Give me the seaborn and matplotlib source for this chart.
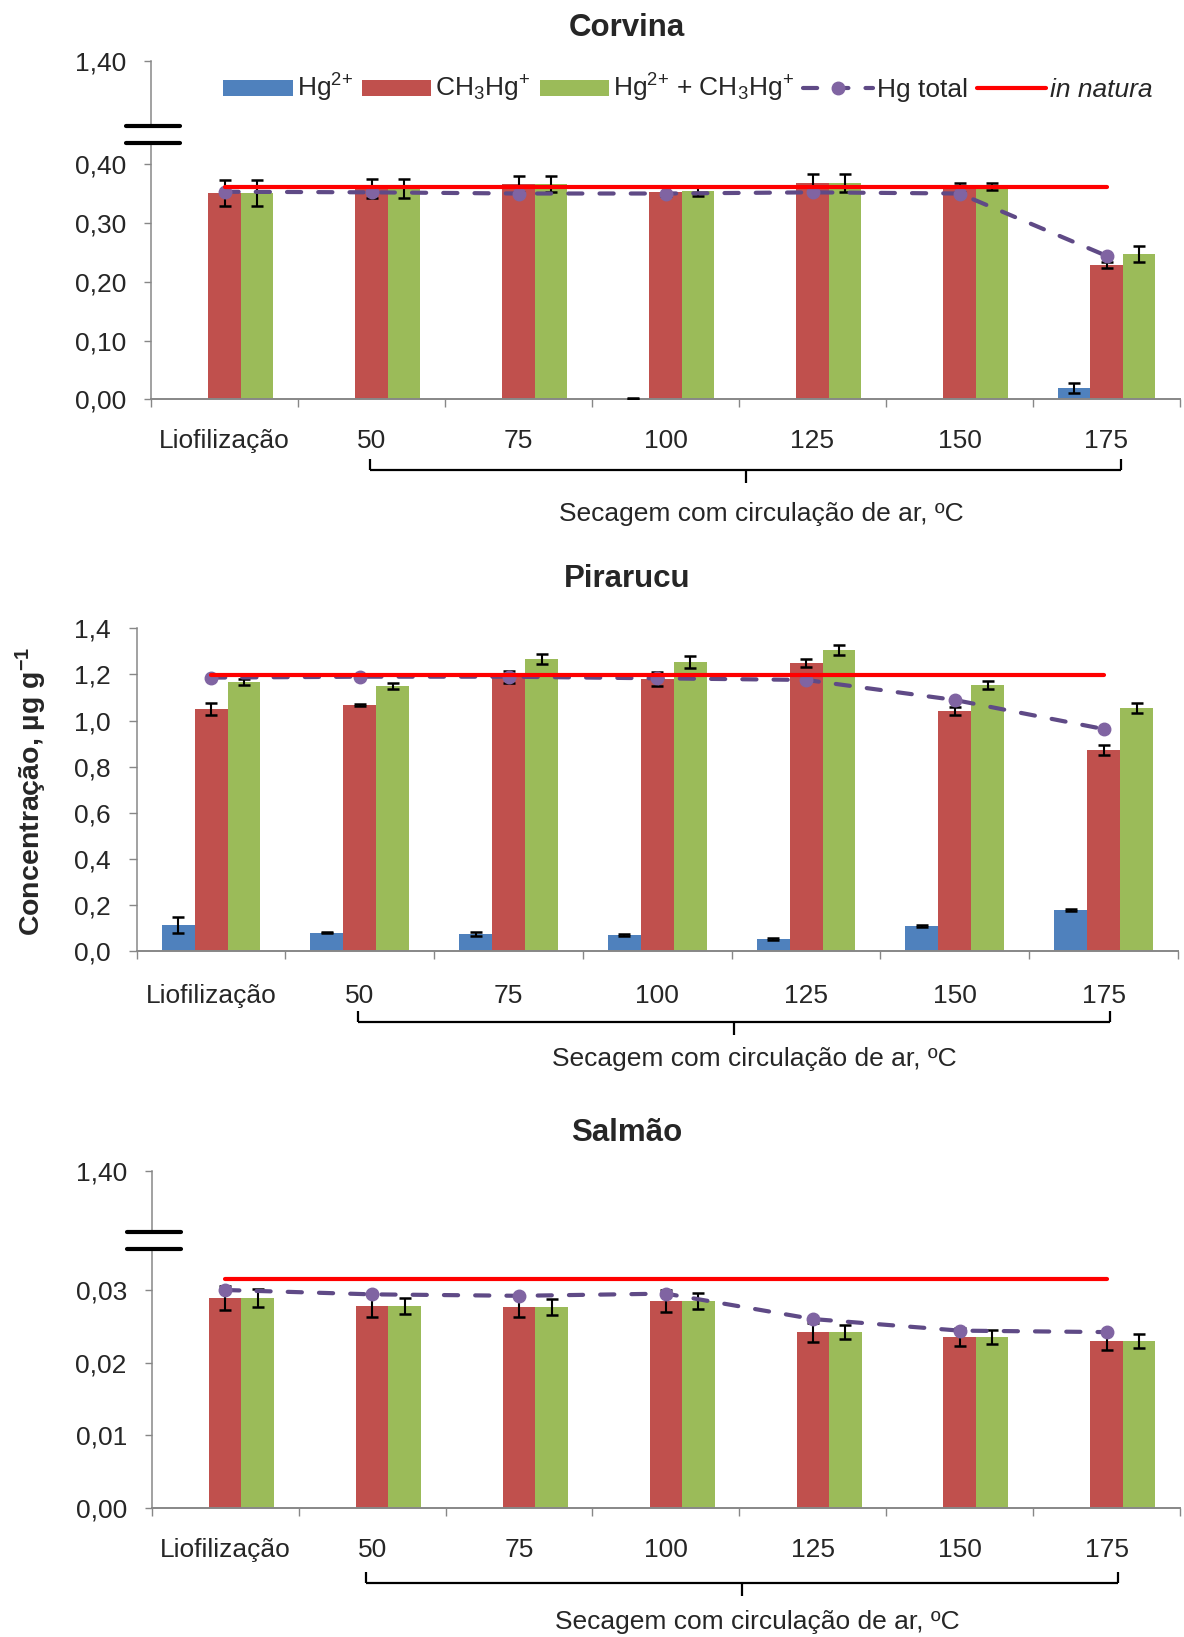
import numpy as np
import pandas as pd
import matplotlib
matplotlib.use("Agg")
import matplotlib.pyplot as plt
import matplotlib.transforms as mtransforms
from matplotlib.lines import Line2D
from matplotlib.patches import Patch
from matplotlib.ticker import FuncFormatter
import seaborn as sns

# ---------------- dados ----------------
categorias = ["Liofilização", "50", "75", "100", "125", "150", "175"]
especies = ["Hg$^{2{+}}$", "CH$_3$Hg$^{+}$", "Hg$^{2{+}}$ + CH$_3$Hg$^{+}$"]

# Corvina
corvina_hg2 = [0.0, 0.0, 0.0, 0.001, 0.0, 0.0, 0.019]
corvina_hg2_err = [0.0, 0.0, 0.0, 0.001, 0.0, 0.0, 0.008]
corvina_mehg = [0.351, 0.358, 0.366, 0.353, 0.368, 0.360, 0.228]
corvina_mehg_err = [0.022, 0.016, 0.014, 0.008, 0.015, 0.008, 0.005]
corvina_soma = [0.351, 0.358, 0.366, 0.354, 0.368, 0.362, 0.247]
corvina_soma_err = [0.022, 0.016, 0.014, 0.009, 0.015, 0.006, 0.013]
corvina_total = [0.353, 0.352, 0.350, 0.350, 0.352, 0.350, 0.244]
corvina_natura = 0.361

# Pirarucu
pirarucu_hg2 = [0.113, 0.080, 0.074, 0.069, 0.052, 0.109, 0.178]
pirarucu_hg2_err = [0.036, 0.004, 0.008, 0.004, 0.004, 0.003, 0.003]
pirarucu_mehg = [1.050, 1.067, 1.190, 1.180, 1.249, 1.041, 0.872]
pirarucu_mehg_err = [0.028, 0.004, 0.026, 0.029, 0.017, 0.018, 0.022]
pirarucu_soma = [1.167, 1.150, 1.267, 1.254, 1.306, 1.154, 1.054]
pirarucu_soma_err = [0.011, 0.013, 0.020, 0.027, 0.020, 0.019, 0.023]
pirarucu_total = [1.186, 1.190, 1.190, 1.183, 1.176, 1.089, 0.963]
pirarucu_natura = 1.197

# Salmão
salmao_hg2 = [0.0, 0.0, 0.0, 0.0, 0.0, 0.0, 0.0]
salmao_hg2_err = [0.0, 0.0, 0.0, 0.0, 0.0, 0.0, 0.0]
salmao_mehg = [0.0289, 0.0278, 0.0277, 0.0285, 0.0242, 0.0235, 0.0230]
salmao_mehg_err = [0.0016, 0.0015, 0.0014, 0.0015, 0.0013, 0.0012, 0.0012]
salmao_soma = [0.0289, 0.0278, 0.0277, 0.0285, 0.0242, 0.0235, 0.0230]
salmao_soma_err = [0.0013, 0.0011, 0.0011, 0.0011, 0.0010, 0.0010, 0.0010]
salmao_total = [0.0300, 0.0294, 0.0292, 0.0295, 0.0260, 0.0244, 0.0242]
salmao_natura = 0.0315

corvina_yticks = [0.0, 0.1, 0.2, 0.3, 0.4]
pirarucu_yticks = [0.0, 0.2, 0.4, 0.6, 0.8, 1.0, 1.2, 1.4]
salmao_yticks = [0.0, 0.01, 0.02, 0.03]

# ---------------- estilo ----------------
cores_barras = ["#4F81BD", "#C0504D", "#9BBB59"]
roxo_linha = "#5F4A86"
roxo_marcador = "#8064A2"
vermelho = "#FF0000"
cinza = "#878787"

sns.set_style("white")
plt.rcParams["font.family"] = ["Liberation Sans", "DejaVu Sans"]
plt.rcParams["mathtext.fontset"] = "custom"
plt.rcParams["mathtext.rm"] = "Liberation Sans"
plt.rcParams["mathtext.it"] = "Liberation Sans:italic"
plt.rcParams["mathtext.bf"] = "Liberation Sans:bold"

FS = 19
W, H = 1184, 1637
fig = plt.figure(figsize=(W / 100, H / 100), dpi=100)


def caixa(left, right, top, bottom):
    """Pixel box -> figure fraction [x0, y0, w, h]."""
    return [left / W, 1 - bottom / H, (right - left) / W, (bottom - top) / H]


estilo_total = dict(color=roxo_linha, lw=3, linestyle=(0, (3.4, 4.1)),
                    dash_capstyle="round", marker="o", ms=9,
                    mfc=roxo_marcador, mec=roxo_marcador)


def painel(ax, hg2, hg2_err, mehg, mehg_err, soma, soma_err, total, natura,
           ytop, yticks, decimais, pad_x):
    df = pd.DataFrame({
        "categoria": categorias * 3,
        "especie": np.repeat(especies, len(categorias)),
        "valor": list(hg2) + list(mehg) + list(soma),
    })
    sns.barplot(data=df, x="categoria", y="valor", hue="especie",
                order=categorias, hue_order=especies, palette=cores_barras,
                width=0.664, errorbar=None, saturation=1, linewidth=0,
                legend=False, ax=ax, zorder=2)
    for cont, vals, errs in zip(ax.containers, [hg2, mehg, soma],
                                [hg2_err, mehg_err, soma_err]):
        xs, ys, es = [], [], []
        for bar, v, e in zip(cont, vals, errs):
            if e > 0:
                xs.append(bar.get_x() + bar.get_width() / 2)
                ys.append(v)
                es.append(e)
        if xs:
            ax.errorbar(xs, ys, yerr=es, fmt="none", ecolor="black",
                        elinewidth=1.5, capsize=4.5, capthick=1.8, zorder=3)
    x = np.arange(len(categorias))
    ax.plot(x, total, zorder=4, **estilo_total)
    ax.plot([x[0], x[-1]], [natura, natura], color=vermelho, lw=3,
            solid_capstyle="round", zorder=5)

    ax.set_xlim(-0.5, len(categorias) - 0.5)
    ax.set_ylim(0, ytop)
    ax.set_xlabel("")
    ax.set_ylabel("")
    ax.set_xticks(x)
    ax.set_xticklabels(categorias)
    ax.set_xticks(np.arange(-0.5, len(categorias)), minor=True)
    ax.tick_params(axis="x", which="major", length=0, pad=pad_x, labelsize=FS,
                   bottom=True)
    ax.tick_params(axis="x", which="minor", length=5.5, width=1, color=cinza,
                   direction="out", bottom=True)
    ax.set_yticks(yticks)
    ax.yaxis.set_major_formatter(
        FuncFormatter(lambda v, p: f"{v:.{decimais}f}".replace(".", ",")))
    ax.tick_params(axis="y", length=5, width=1, color=cinza, pad=13,
                   labelsize=FS, direction="out", left=True)
    for s in ["top", "right"]:
        ax.spines[s].set_visible(False)
    ax.spines["left"].set_color(cinza)
    ax.spines["left"].set_linewidth(1.1)
    ax.spines["bottom"].set_color(cinza)
    ax.spines["bottom"].set_linewidth(1.4)
    ax.patch.set_alpha(0)


def eixo_topo(ax):
    ax.set_ylim(1.30, 1.40)
    ax.set_yticks([1.40])
    ax.set_yticklabels(["1,40"])
    ax.set_xticks([])
    ax.tick_params(axis="y", length=5, width=1, color=cinza, pad=13,
                   labelsize=FS, direction="out", left=True)
    for s in ["top", "right", "bottom"]:
        ax.spines[s].set_visible(False)
    ax.spines["left"].set_color(cinza)
    ax.spines["left"].set_linewidth(1.1)
    ax.patch.set_alpha(0)


def quebra(ax_baixo, ax_cima):
    pb = ax_baixo.get_position()
    pc = ax_cima.get_position()
    for yy in (pb.y1, pc.y0):
        fig.add_artist(Line2D([pb.x0 - 25 / W, pb.x0 + 29 / W], [yy, yy],
                              color="black", lw=3, transform=fig.transFigure))


def chave(ax, x0, x1, prof, prof_texto, x_texto):
    """Bracket grouping the air-drying temperatures, below the x axis."""
    alt = ax.get_position().height * H
    tr = mtransforms.blended_transform_factory(ax.transData, ax.transAxes)
    meio = (x0 + x1) / 2
    y = -prof / alt
    segs = [([x0, x1], [y, y]),
            ([x0, x0], [y, y + 11 / alt]),
            ([x1, x1], [y, y + 11 / alt]),
            ([meio, meio], [y, y - 13 / alt])]
    for xs, ys in segs:
        ax.add_line(Line2D(xs, ys, color="black", lw=1.6, transform=tr,
                           clip_on=False, solid_capstyle="butt"))
    ax.text(x_texto, -prof_texto / alt, "Secagem com circulação de ar, ºC",
            transform=tr, ha="center", va="center", fontsize=FS)


# ---------------- Corvina ----------------
ax_c = fig.add_axes(caixa(151, 1180, 143.3, 399.3))
ax_ct = fig.add_axes(caixa(151, 1180, 61, 126))
painel(ax_c, corvina_hg2, corvina_hg2_err, corvina_mehg, corvina_mehg_err,
       corvina_soma, corvina_soma_err, corvina_total, corvina_natura,
       0.4354, corvina_yticks, 2, 21.5)
eixo_topo(ax_ct)
quebra(ax_c, ax_ct)
chave(ax_c, 0.99, 6.1, 71, 115, 3.65)

# ---------------- Pirarucu ----------------
ax_p = fig.add_axes(caixa(136.7, 1178, 628.3, 951))
painel(ax_p, pirarucu_hg2, pirarucu_hg2_err, pirarucu_mehg, pirarucu_mehg_err,
       pirarucu_soma, pirarucu_soma_err, pirarucu_total, pirarucu_natura,
       1.4, pirarucu_yticks, 1, 23.5)
ax_p.tick_params(axis="y", length=6)
chave(ax_p, 0.99, 6.04, 71, 108, 3.65)

# ---------------- Salmão ----------------
ax_s = fig.add_axes(caixa(151.8, 1180, 1249, 1507.7))
ax_st = fig.add_axes(caixa(151.8, 1180, 1170.7, 1231.7))
painel(ax_s, salmao_hg2, salmao_hg2_err, salmao_mehg, salmao_mehg_err,
       salmao_soma, salmao_soma_err, salmao_total, salmao_natura,
       0.03565, salmao_yticks, 2, 22)
eixo_topo(ax_st)
quebra(ax_s, ax_st)
chave(ax_s, 0.96, 6.08, 75, 114, 3.62)

# ---------------- títulos e rótulos ----------------
for nome, yc in [("Corvina", 28), ("Pirarucu", 579), ("Salmão", 1133)]:
    fig.text(627 / W, 1 - yc / H, nome, fontsize=22.5, fontweight="bold",
             ha="center", va="center")

fig.text(31.7 / W, 1 - 791 / H, "Concentração, µg g$^{\\mathbf{-1}}$",
         rotation=90, fontsize=20.5, fontweight="bold",
         ha="center", va="center")

# ---------------- legenda ----------------
handles = [Patch(facecolor=c, edgecolor="none") for c in cores_barras]
handles.append(Line2D([], [], **estilo_total))
handles.append(Line2D([], [], color=vermelho, lw=3, solid_capstyle="round"))
rotulos = especies + ["Hg total", "in natura"]
leg = fig.legend(handles, rotulos, loc="center",
                 bbox_to_anchor=(688 / W, 1 - 88.3 / H), ncol=5,
                 frameon=False, fontsize=FS, handlelength=2.63,
                 handleheight=0.55, handletextpad=0.15, columnspacing=0.35,
                 borderpad=0, borderaxespad=0)
leg.get_texts()[-1].set_fontstyle("italic")

fig.savefig("out.png", dpi=100)
